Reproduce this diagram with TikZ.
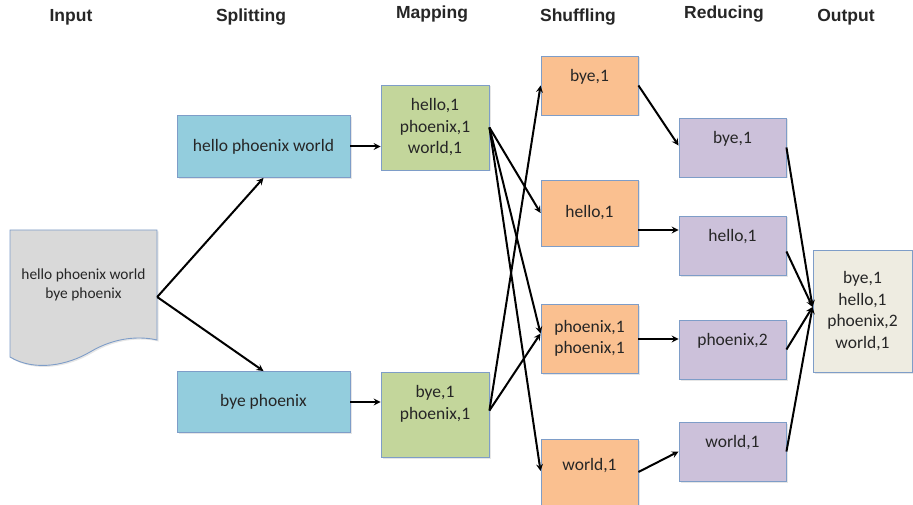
\documentclass[tikz,border=0pt]{standalone}
\usepackage{fontspec}
\setmainfont{Carlito}
\newfontfamily\headfont{Liberation Sans}
\usepackage{tikz}
\usetikzlibrary{arrows,shadows}
\definecolor{Ink}{HTML}{262626}
\definecolor{Edgeblue}{HTML}{7E9DC8}
\definecolor{Inputgray}{HTML}{D9D9D9}
\definecolor{Splitblue}{HTML}{93CDDD}
\definecolor{Mapgreen}{HTML}{C3D69B}
\definecolor{Shuforange}{HTML}{FAC090}
\definecolor{Redpurple}{HTML}{CCC1DA}
\definecolor{Outbeige}{HTML}{EEECE1}
\tikzstyle{flow} = [
    line width=2pt,
    ->,
    >=stealth
]
\tikzstyle{title} = [anchor=base, text=Ink, font=\headfont\bfseries\fontsize{17.5}{20}\selectfont]
\tikzstyle{box} = [
    draw=Edgeblue,
    line width=0.9pt,
    align=center,
    text=Ink,
    font=\fontsize{17.5}{21.5}\selectfont,
    drop shadow={shadow xshift=1.5pt, shadow yshift=-1.5pt, opacity=0.2}
]
\tikzstyle{splitbox} = [box, fill=Splitblue, minimum width=173pt]
\tikzstyle{mapbox} = [box, fill=Mapgreen, minimum width=108pt, minimum height=85pt]
\tikzstyle{shufbox} = [box, fill=Shuforange, minimum width=97pt]
\tikzstyle{redbox} = [box, fill=Redpurple, minimum width=107pt, minimum height=59pt]
\tikzstyle{outbox} = [box, fill=Outbeige, minimum width=99pt, minimum height=122pt]
\tikzstyle{lifted} = [text depth=20pt]
\tikzstyle{liftedmore} = [text depth=24pt]

\begin{document}
\begin{tikzpicture}[x=1pt, y=-1pt]
    \useasboundingbox (0,0) rectangle (913,505);
    % Column titles
    \node[title] (tin) at (71,22) {Input};
    \node[title] (tsplit) at (251,22) {Splitting};
    \node[title] (tmap) at (432,19) {Mapping};
    \node[title] (tshuf) at (578,22) {Shuffling};
    \node[title] (tred) at (724,19) {Reducing};
    \node[title] (tout) at (846,22) {Output};
    % Input document
    \filldraw[fill=Inputgray, draw=Edgeblue, line width=0.9pt, drop shadow={shadow xshift=1.5pt, shadow yshift=-1.5pt, opacity=0.2}]
        (10,230) -- (157,230) -- (157,340)
        .. controls (140,336) and (115,337) .. (90,352)
        .. controls (68,365) and (35,372) .. (10,357) -- cycle;
    \node[align=center, text=Ink, font=\fontsize{15.4}{19}\selectfont, minimum width=147pt, minimum height=110pt] (inp) at (83.5,285) {hello phoenix world\\bye phoenix};
    % Splitting
    \node[splitbox, minimum height=62pt] (s1) at (263.5,146.5) {hello phoenix world};
    \node[splitbox, minimum height=61pt] (s2) at (263.5,402) {bye phoenix};
    % Mapping
    \node[mapbox] (m1) at (435,127.5) {hello,1\\phoenix,1\\world,1};
    \node[mapbox, liftedmore] (m2) at (435,414.5) {bye,1\\phoenix,1};
    % Shuffling
    \node[shufbox, lifted, minimum height=59pt] (sh1) at (589.5,85.5) {bye,1};
    \node[shufbox, minimum height=66pt] (sh2) at (589.5,213) {hello,1};
    \node[shufbox, minimum height=69pt] (sh3) at (589.5,338.5) {phoenix,1\\phoenix,1};
    \node[shufbox, lifted, minimum height=70pt] (sh4) at (589.5,474) {world,1};
    % Reducing
    \node[redbox, lifted] (r1) at (732.5,147.5) {bye,1};
    \node[redbox, lifted] (r2) at (732.5,245.5) {hello,1};
    \node[redbox, lifted] (r3) at (732.5,349.5) {phoenix,2};
    \node[redbox, lifted] (r4) at (732.5,451.5) {world,1};
    % Output
    \node[outbox] (out) at (862.5,311) {bye,1\\hello,1\\phoenix,2\\world,1};
    % Input to splitting
    \draw[flow] ([yshift=-12pt]inp.east) -- (s1.south);
    \draw[flow] ([yshift=-12pt]inp.east) -- (s2.north);
    % Splitting to mapping
    \draw[flow] (s1.east) -- (s1.east -| m1.west);
    \draw[flow] (s2.east) -- (s2.east -| m2.west);
    % Mapping to shuffling
    \draw[flow] (m1.east) -- (sh2.west);
    \draw[flow] (m1.east) -- ([yshift=5pt]sh3.west);
    \draw[flow] (m1.east) -- ([yshift=3pt]sh4.west);
    \draw[flow] ([yshift=4pt]m2.east) -- (sh1.west);
    \draw[flow] ([yshift=4pt]m2.east) -- ([yshift=5pt]sh3.west);
    % Shuffling to reducing
    \draw[flow] (sh1.east) -- ([yshift=2pt]r1.west);
    \draw[flow] ([yshift=-17pt]sh2.east) -- ([yshift=-17pt]sh2.east -| r2.west);
    \draw[flow] ([yshift=-0.5pt]sh3.east) -- ([yshift=-0.5pt]sh3.east -| r3.west);
    \draw[flow] ([yshift=2pt]sh4.east) -- (r4.west);
    % Reducing to output
    \draw[flow] (r1.east) -- ([yshift=4pt]out.west);
    \draw[flow] ([yshift=-6pt]r2.east) -- ([yshift=4pt]out.west);
    \draw[flow] (r3.east) -- ([yshift=4pt]out.west);
    \draw[flow] (r4.east) -- ([yshift=4pt]out.west);
\end{tikzpicture}
\end{document}
